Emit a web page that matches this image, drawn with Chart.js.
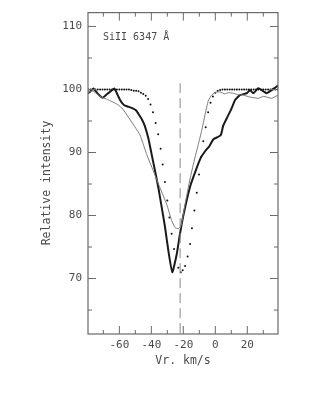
<!DOCTYPE html>
<html>
<head>
<meta charset="utf-8">
<script src="https://cdn.jsdelivr.net/npm/chart.js@4"></script>
<style>
  html, body { margin: 0; padding: 0; background: #fff; }
  #wrap { width: 315px; height: 407px; }
</style>
</head>
<body>
<div id="wrap"><canvas id="profile" width="315" height="407"></canvas></div>
<script>
// Line label and axis text
const lineLabel = 'SiII 6347 Å';
const xTitle = 'Vr. km/s';
const yTitle = 'Relative intensity';

// Tick positions (major ones get labels)
const xTickVals = [-60, -40, -20, 0, 20];
const xMinorVals = [-70, -50, -30, -10, 10, 30];
const yTickVals = [70, 80, 90, 100, 110];
const yMinorVals = [65, 75, 85, 95, 105];

// Thick black profile
const thickV = [-79.6, -78.5, -76.3, -73, -70.5, -68, -65, -63.1, -61, -59, -56.9, -54.8, -51.6, -49.6, -47.5, -45.8, -44.2, -41.9, -39.8, -37.7, -35.6, -33.5, -31.4, -29.4, -26.9, -24.1, -22.1, -20, -17.9, -15.5, -12.3, -9.2, -6.4, -3.7, -1.2, 1.9, 3.5, 5, 7.1, 10.2, 12.3, 15.4, 19.6, 21.7, 23.8, 26.9, 29, 32.1, 35.2, 38, 39.2];
const thickI = [99.4, 99.6, 100.15, 99.2, 98.7, 99.2, 99.8, 100.15, 99.1, 98.1, 97.5, 97.3, 97.0, 96.7, 95.9, 95.2, 94.3, 92.3, 89.7, 87.1, 84.4, 81.3, 78.1, 74.5, 71.0, 73.9, 77.1, 80.0, 82.4, 84.8, 87.1, 89.1, 90.2, 91.0, 92.1, 92.5, 92.8, 94.3, 95.4, 97.0, 98.3, 99.1, 99.4, 99.9, 99.4, 100.2, 99.9, 99.4, 99.9, 100.4, 100.6];

// Thin grey profile
const thinV = [-79.6, -77, -75.6, -71.4, -68.3, -64, -61, -57.9, -53.5, -49.6, -47.1, -45.4, -42.9, -38.8, -34.6, -30.4, -27.3, -25.2, -23.1, -21.4, -18.9, -15.8, -13.3, -10.6, -8.5, -6.4, -4.4, -2, 0.9, 3, 6, 8, 11.2, 14, 17.5, 21.7, 24, 26.9, 30, 32.1, 35.2, 38.4, 39.2];
const thinI = [99.5, 99.8, 99.6, 98.8, 98.5, 98.0, 97.6, 96.9, 95.3, 93.8, 92.8, 91.6, 89.7, 87.1, 84.4, 81.8, 79.2, 78.1, 77.9, 78.4, 81.8, 85.8, 88.6, 91.3, 93.5, 96.0, 98.2, 99.2, 99.6, 99.6, 99.3, 99.5, 99.4, 99.2, 99.1, 98.8, 98.7, 98.6, 98.9, 98.8, 98.6, 99.0, 99.0];

// Dotted (synthetic) profile
const dotV = [-79.5, -78, -76.5, -75, -73.5, -72, -70.5, -69, -67.5, -66, -64.5, -63, -61.5, -60, -58.5, -57, -55.5, -54, -52.5, -51, -49.5, -48, -46.5, -45, -43.5, -42, -40.5, -39, -37.3, -35.7, -34.2, -32.9, -31.5, -30, -28.7, -27.3, -25.8, -23.1, -21.6, -20.4, -18.9, -17.3, -15.8, -14.6, -13.1, -11.6, -10.2, -8.9, -7.5, -6, -4.5, -3, -1.5, 0, 1.5, 3, 4.5, 6, 7.5, 9, 10.5, 12, 13.5, 15, 16.5, 18, 19.5, 21, 22.5, 24, 25.5, 27, 28.5, 30, 31.5, 33, 34.5, 36, 37.5, 39];
const dotI = [100, 100, 100, 100, 100, 100, 100, 100, 100, 100, 100, 100, 100, 100, 100, 100, 100, 100, 99.9, 99.8, 99.8, 99.7, 99.5, 99.3, 99.0, 98.5, 97.6, 96.4, 94.7, 92.9, 90.6, 88.1, 85.3, 82.4, 79.7, 77.1, 74.7, 71.7, 71.0, 71.3, 72.0, 73.5, 75.5, 78.0, 80.8, 83.6, 86.5, 89.3, 91.8, 94.0, 96.4, 97.9, 98.9, 99.5, 99.8, 99.9, 100, 100, 100, 100, 100, 100, 100, 100, 100, 100, 100, 100, 100, 100, 100, 100, 100, 100, 100, 100, 100, 100, 100, 100];

// Vertical dashed marker
const markV = [-22, -22];
const markI = [101, 61.2];

const toPoints = (xs, ys) => xs.map((x, i) => ({ x: x, y: ys[i] }));

const FONT = '"DejaVu Sans Mono", monospace';
const TEXT_COLOR = '#4a4a4a';

// Frame, inward ticks and free text
const framePlugin = {
    id: 'frame',
    afterDatasetsDraw(chart) {
        const ctx = chart.ctx;
        const a = chart.chartArea;
        const xs = chart.scales.x;
        const ys = chart.scales.y;
        ctx.save();
        ctx.strokeStyle = '#6a6a6a';
        ctx.lineWidth = 1.2;
        ctx.strokeRect(a.left, a.top, a.right - a.left, a.bottom - a.top);

        const tickX = (vals, len) => vals.forEach(v => {
            const px = xs.getPixelForValue(v);
            ctx.beginPath();
            ctx.moveTo(px, a.bottom); ctx.lineTo(px, a.bottom - len);
            ctx.moveTo(px, a.top); ctx.lineTo(px, a.top + len);
            ctx.stroke();
        });
        const tickY = (vals, len) => vals.forEach(v => {
            const py = ys.getPixelForValue(v);
            ctx.beginPath();
            ctx.moveTo(a.left, py); ctx.lineTo(a.left + len, py);
            ctx.moveTo(a.right, py); ctx.lineTo(a.right - len, py);
            ctx.stroke();
        });
        ctx.lineWidth = 1;
        tickX(xTickVals, 8);
        tickX(xMinorVals, 4);
        tickY(yTickVals, 8);
        tickY(yMinorVals, 4);

        ctx.fillStyle = TEXT_COLOR;
        ctx.font = '10px ' + FONT;
        ctx.textAlign = 'left';
        ctx.textBaseline = 'middle';
        ctx.fillText(lineLabel, 103, 37);

        ctx.font = '11.5px ' + FONT;
        ctx.textAlign = 'center';
        ctx.fillText(xTitle, (a.left + a.right) / 2, 361);

        ctx.translate(47, 183);
        ctx.rotate(-Math.PI / 2);
        ctx.fillText(yTitle, 0, 0);
        ctx.restore();
    }
};

new Chart(document.getElementById('profile'), {
    type: 'scatter',
    data: {
        datasets: [
            {
                data: toPoints(markV, markI),
                showLine: true,
                borderColor: '#8a8a8a',
                borderWidth: 1,
                borderDash: [10, 5],
                pointRadius: 0
            },
            {
                data: toPoints(thinV, thinI),
                showLine: true,
                borderColor: '#7a7a7a',
                borderWidth: 1,
                pointRadius: 0,
                tension: 0.15
            },
            {
                data: toPoints(thickV, thickI),
                showLine: true,
                borderColor: '#1a1a1a',
                borderWidth: 2,
                pointRadius: 0,
                tension: 0.15
            },
            {
                data: toPoints(dotV, dotI),
                showLine: false,
                backgroundColor: '#111',
                borderWidth: 0,
                pointRadius: 1
            }
        ]
    },
    options: {
        responsive: false,
        animation: false,
        devicePixelRatio: 1,
        layout: { padding: { left: 0, right: 37, top: 10, bottom: 0 } },
        plugins: {
            legend: { display: false },
            tooltip: { enabled: false }
        },
        scales: {
            x: {
                type: 'linear',
                min: -79.6,
                max: 39.2,
                afterBuildTicks: s => { s.ticks = xTickVals.map(v => ({ value: v })); },
                afterFit: s => { s.height = 73; },
                grid: { display: false, drawTicks: false },
                border: { display: false },
                ticks: {
                    padding: 5,
                    color: TEXT_COLOR,
                    font: { family: FONT, size: 11 }
                }
            },
            y: {
                min: 61.2,
                max: 112.2,
                afterBuildTicks: s => { s.ticks = yTickVals.map(v => ({ value: v })); },
                afterFit: s => { s.width = 88; },
                grid: { display: false, drawTicks: false },
                border: { display: false },
                ticks: {
                    padding: 6,
                    color: TEXT_COLOR,
                    font: { family: FONT, size: 11 }
                }
            }
        }
    },
    plugins: [framePlugin]
});
</script>
</body>
</html>
